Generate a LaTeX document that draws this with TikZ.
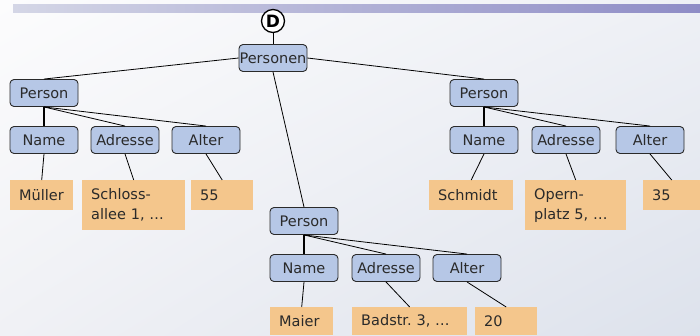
\documentclass[tikz,border=0pt]{standalone}
\usepackage{fontspec}
\setmainfont{DejaVu Sans}
\usetikzlibrary{shadings}
\frenchspacing
\definecolor{boxblue}{HTML}{B6C7E6}
\definecolor{valorange}{HTML}{F4C68C}
\definecolor{txt}{HTML}{2A2A2A}
\definecolor{bgA}{HTML}{FCFCFD}
\definecolor{bgB}{HTML}{EEF0F5}
\definecolor{bgC}{HTML}{F0F1F5}
\definecolor{bgD}{HTML}{DDE2EC}
\definecolor{barL}{HTML}{D4D6E6}
\definecolor{barR}{HTML}{8E8CC6}
\begin{document}
\begin{tikzpicture}[x=1pt,y=-1pt,
  el/.style={draw=txt, fill=boxblue, rounded corners=4pt, line width=0.9pt,
    minimum width=68pt, minimum height=27pt, inner sep=0pt, text=txt,
    font=\fontsize{14.5}{16}\selectfont},
  val/.style={fill=valorange, inner xsep=9pt, inner ysep=0pt, align=left, text=txt,
    anchor=north west, font=\fontsize{14.5}{20}\selectfont},
  ln/.style={line width=0.8pt, black},
  thk/.style={line width=1.6pt, black}]
\useasboundingbox (0,0) rectangle (700,335);
\shade[upper left=bgA, upper right=bgB, lower left=bgC, lower right=bgD] (0,0) rectangle (700,335);
\shade[left color=barL, right color=barR] (13,4) rectangle (700,12);

\node[draw=black, fill=white, circle, line width=1.3pt, minimum size=23pt, inner sep=0pt,
  font=\bfseries\fontsize{17}{18}\selectfont] (D) at (273,21) {D};
\node[el] (P) at (273,58) {Personen};

\node[el] (p1) at (44,93) {Person};
\node[el] (p1n) at (44,140) {Name};
\node[el] (p1a) at (125,140) {Adresse};
\node[el] (p1g) at (206,140) {Alter};

\node[el] (p2) at (484,93) {Person};
\node[el] (p2n) at (484,140) {Name};
\node[el] (p2a) at (566,140) {Adresse};
\node[el] (p2g) at (650,140) {Alter};

\node[el] (p3) at (304,221) {Person};
\node[el] (p3n) at (304,268) {Name};
\node[el] (p3a) at (386,268) {Adresse};
\node[el] (p3g) at (467,268) {Alter};

\node[val, text width=45pt, minimum height=30pt] (v1n) at (10,180) {Müller};
\node[val, text width=85pt, minimum height=50pt] (v1a) at (82,180) {Schloss-\\allee 1, …};
\node[val, text width=44pt, minimum height=30pt] (v1g) at (191,180) {55};

\node[val, text width=66pt, minimum height=30pt] (v2n) at (429,180) {Schmidt};
\node[val, text width=83pt, minimum height=50pt] (v2a) at (525,180) {Opern-\\platz 5, …};
\node[val, text width=39pt, minimum height=30pt] (v2g) at (643,180) {35};

\node[val, text width=45pt, minimum height=28pt] (v3n) at (270,307) {Maier};
\node[val, text width=97pt, minimum height=28pt] (v3a) at (352,307) {Badstr. 3, …};
\node[val, text width=44pt, minimum height=28pt] (v3g) at (475,307) {20};

\draw[ln] (D) -- (P);
\draw[ln] (P.west) -- (p1.north);
\draw[ln] (P.east) -- (p2.north);
\draw[ln] (P.south) -- (p3.north);

\foreach \p in {p1,p2,p3}{
  \draw[thk] (\p.south) -- (\p n.north);
  \draw[ln] (\p.south) -- (\p a.north);
  \draw[ln] (\p.south) -- (\p g.north);
}
\draw[ln] (p1n.south) -- (v1n.north);
\draw[ln] (p1a.south) -- (v1a.north);
\draw[ln] (p1g.south) -- (v1g.north);
\draw[ln] (p2n.south) -- (v2n.north);
\draw[ln] (p2a.south) -- (v2a.north);
\draw[ln] (p2g.south) -- (v2g.north);
\draw[ln] (p3n.south) -- (v3n.north);
\draw[ln] (p3a.south) -- (v3a.north);
\draw[ln] (p3g.south) -- (v3g.north);
\end{tikzpicture}
\end{document}
